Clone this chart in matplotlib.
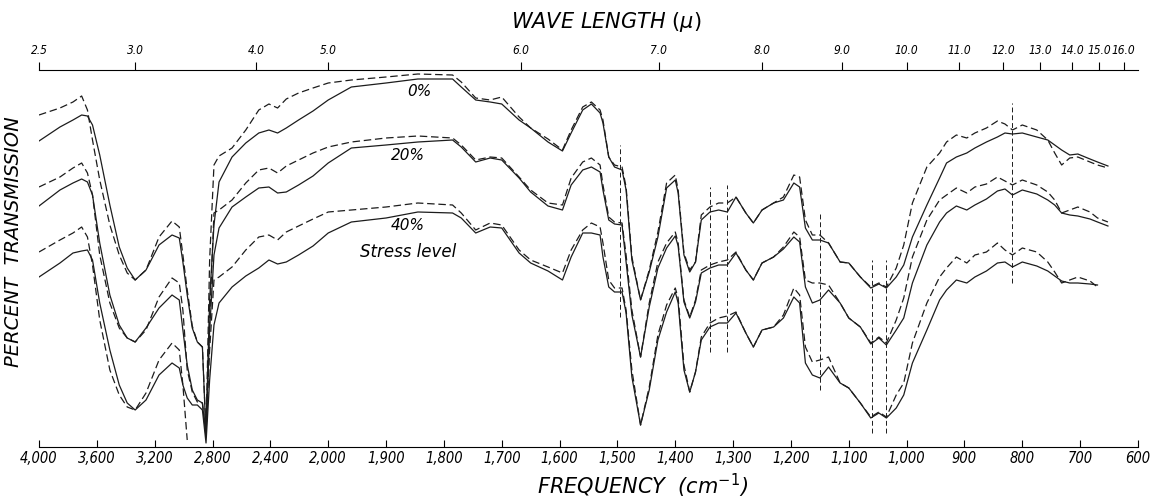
import matplotlib.pyplot as plt
import numpy as np

freq = [4000, 3855, 3765, 3705, 3665, 3630, 3580, 3510, 3445, 3390, 3335, 3260, 3170,
        3080, 3030, 3005, 2975, 2940, 2905, 2870, 2845, 2820, 2790, 2755, 2665, 2570,
        2480, 2410, 2350, 2290, 2205, 2105, 2000,
        1960, 1900, 1845, 1785, 1770, 1745, 1720, 1700, 1670, 1650,
        1620, 1595, 1580, 1560, 1545, 1530, 1525, 1515, 1505, 1492,
        1485, 1475, 1460, 1445, 1430, 1415, 1400, 1395, 1385, 1375,
        1365, 1355, 1340, 1325, 1310, 1295, 1278, 1265, 1250, 1230,
        1213, 1195, 1185, 1175, 1163, 1150, 1135, 1115, 1100, 1080,
        1062, 1048, 1035, 1018, 1005, 990, 965, 943, 931, 914,
        896, 882, 862, 843, 830, 817, 800, 775, 756, 744,
        732, 718, 704, 683, 670, 652]

nan = np.nan
# relative transmission (curves are offset vertically, no y scale on the chart)
t0_dashed = [332, 339, 345, 351, 337, 307, 267, 222, 192, 174, 167, 177, 210, 226, 220, 192, 157,
             121, 105, 100, 14, 187, 282, 291, 299, 317, 337, 343, 339, 348, 354, 359, 364,
             367, 370, 373, 372, 365, 349, 347, 350, 330, 319,
             308, 297, 317, 340, 345, 337, 327, 290, 282, 280,
             260, 190, 147, 177, 215, 264, 272, 257, 194, 177,
             185, 232, 240, 244, 244, 250, 234, 224, 237, 244,
             250, 272, 270, 227, 212, 212, 204, 185, 184, 170,
             160, 164, 160, 179, 202, 244, 280, 294, 305, 312,
             309, 314, 319, 326, 323, 317, 322, 317, 307, 294,
             282, 289, 290, 285, 282, 279]
t0_solid = [306, 320, 327, 332, 331, 322, 292, 242, 200, 179, 167, 177, 202, 212, 209, 185, 152,
            119, 105, 100, 12, 147, 222, 265, 290, 304, 314, 317, 314, 319, 327, 336, 347,
            360, 364, 368, 368, 360, 347, 345, 343, 327, 319,
            305, 296, 314, 337, 343, 334, 324, 290, 280, 277,
            257, 187, 147, 175, 210, 259, 267, 254, 192, 175,
            185, 227, 235, 237, 235, 250, 234, 224, 237, 244,
            247, 264, 260, 219, 207, 207, 204, 185, 184, 170,
            159, 163, 159, 170, 182, 210, 242, 269, 284, 290,
            294, 299, 305, 310, 314, 313, 314, 310, 307, 302,
            297, 292, 293, 288, 285, 281]
t20_dashed = [260, 270, 279, 284, 274, 252, 192, 144, 119, 109, 105, 117, 150, 169, 164, 137, 77,
              55, 45, 44, 14, 127, 234, 237, 247, 264, 277, 279, 274, 281, 287, 294, 300,
              305, 309, 311, 309, 302, 287, 290, 289, 270, 257,
              244, 242, 269, 285, 289, 282, 262, 230, 225, 224,
              192, 137, 90, 144, 185, 204, 215, 204, 147, 130,
              147, 177, 182, 185, 187, 195, 177, 167, 184, 190,
              200, 215, 210, 167, 164, 164, 162, 144, 129, 120,
              104, 110, 104, 127, 149, 190, 227, 247, 252, 259,
              254, 260, 263, 270, 266, 262, 267, 262, 255, 247,
              234, 237, 240, 235, 229, 225]
t20_solid = [241, 257, 264, 268, 265, 252, 204, 152, 122, 109, 105, 119, 139, 152, 147, 117, 82,
             57, 47, 44, 10, 117, 192, 219, 240, 250, 259, 260, 254, 255, 262, 271, 284,
             299, 302, 305, 307, 300, 285, 289, 287, 269, 255,
             241, 237, 262, 277, 280, 275, 257, 227, 223, 222,
             185, 132, 90, 140, 179, 199, 211, 201, 145, 129,
             145, 174, 179, 182, 182, 194, 177, 167, 184, 190,
             198, 210, 205, 160, 144, 147, 157, 144, 129, 120,
             103, 109, 102, 117, 129, 164, 202, 225, 234, 241,
             237, 242, 248, 256, 258, 252, 257, 253, 247, 242,
             234, 232, 231, 228, 225, 221]
t40_dashed = [195, 207, 214, 220, 210, 182, 127, 77, 52, 40, 37, 54, 87, 104, 97, 62, 7,
              nan, nan, nan, 14, 97, 167, 170, 180, 197, 210, 212, 207, 215, 221, 228, 235,
              237, 240, 244, 242, 234, 217, 224, 222, 197, 187,
              180, 174, 197, 217, 224, 220, 204, 167, 159, 159,
              137, 77, 22, 60, 112, 142, 159, 149, 82, 55,
              75, 110, 124, 129, 131, 135, 114, 100, 117, 120,
              132, 159, 152, 100, 85, 87, 90, 64, 59, 44,
              30, 35, 30, 52, 64, 104, 144, 170, 179, 190,
              184, 192, 195, 204, 197, 192, 199, 195, 185, 175,
              164, 167, 170, 166, 160, nan]
t40_solid = [170, 184, 194, 196, 197, 187, 144, 97, 62, 44, 37, 47, 72, 84, 79, 62, 49,
             42, 42, 37, 4, 67, 122, 144, 160, 171, 179, 187, 183, 185, 192, 201, 214,
             225, 229, 235, 234, 229, 214, 220, 219, 194, 184,
             176, 167, 190, 214, 214, 212, 190, 160, 155, 155,
             134, 70, 22, 57, 107, 135, 155, 144, 77, 55,
             75, 107, 120, 124, 124, 134, 114, 100, 117, 120,
             129, 150, 144, 84, 72, 69, 80, 64, 59, 44,
             29, 34, 29, 39, 52, 84, 117, 147, 157, 167,
             164, 170, 176, 184, 185, 180, 185, 181, 176, 171,
             166, 164, 164, 163, 162, nan]

# vertical reference marks: position, bottom, top
mark_freq = [1495, 1340, 1310, 1150, 1060, 1035, 817]
mark_lo = [130, 95, 95, 57, 14, 14, 164]
mark_hi = [302, 260, 262, 234, 187, 187, 344]

freq_ticks = [4000, 3600, 3200, 2800, 2400, 2000, 1900, 1800, 1700, 1600, 1500,
              1400, 1300, 1200, 1100, 1000, 900, 800, 700, 600]
freq_labels = ['4,000', '3,600', '3,200', '2,800', '2,400', '2,000', '1,900', '1,800',
               '1,700', '1,600', '1,500', '1,400', '1,300', '1,200', '1,100', '1,000',
               '900', '800', '700', '600']
wave_ticks = [2.5, 3.0, 4.0, 5.0, 6.0, 7.0, 8.0, 9.0, 10.0, 11.0, 12.0, 13.0, 14.0, 15.0, 16.0]
wave_labels = ['2.5', '3.0', '4.0', '5.0', '6.0', '7.0', '8.0', '9.0', '10.0', '11.0',
               '12.0', '13.0', '14.0', '15.0', '16.0']


# chart paper: 600-2000 at 100 per division, 2000-4000 at 400 per division
def to_pos(f):
    f = np.asarray(f, dtype=float)
    return np.where(f >= 2000, 14 + (f - 2000) / 400, (f - 600) / 100)


def from_pos(p):
    p = np.asarray(p, dtype=float)
    return np.where(p >= 14, 2000 + 400 * (p - 14), 600 + 100 * p)


ink = '#1c1c1c'
cond = ['DejaVu Sans Condensed', 'DejaVu Sans']

fig = plt.figure(figsize=(11.55, 5.04), dpi=100)
ax = fig.add_axes([39 / 1155, 1 - 447 / 504, (1138 - 39) / 1155, (447 - 70) / 504])
ax.set_xscale('function', functions=(to_pos, from_pos))

for vals, dashed in [(t0_dashed, True), (t0_solid, False), (t20_dashed, True),
                     (t20_solid, False), (t40_dashed, True), (t40_solid, False)]:
    if dashed:
        ax.plot(freq, vals, color=ink, lw=0.9, dashes=(6, 3))
    else:
        ax.plot(freq, vals, color=ink, lw=0.9)

ax.vlines(mark_freq, mark_lo, mark_hi, colors=ink, lw=0.7, linestyles=(0, (5, 3)))

ax.set_xlim(4000, 600)
ax.set_ylim(0, 377)
ax.set_yticks([])
ax.set_xticks(freq_ticks, labels=freq_labels, fontstyle='italic', family=cond,
              fontstretch='condensed', fontsize=10.5)
ax.xaxis.set_minor_locator(plt.NullLocator())
ax.tick_params(axis='x', direction='in', length=5, width=0.8, pad=3)
for s in ['left', 'right', 'top']:
    ax.spines[s].set_visible(False)
ax.spines['bottom'].set_linewidth(0.8)

ax2 = ax.twiny()
ax2.set_xscale('function', functions=(to_pos, from_pos))
ax2.set_xlim(4000, 600)
ax2.set_xticks([1e4 / w for w in wave_ticks], labels=wave_labels, fontstyle='italic',
               family=cond, fontstretch='condensed', fontsize=8.6)
ax2.xaxis.set_minor_locator(plt.NullLocator())
ax2.tick_params(axis='x', direction='out', length=6, width=0.8, pad=3)
for s in ['left', 'right', 'bottom']:
    ax2.spines[s].set_visible(False)
ax2.spines['top'].set_linewidth(0.8)

ax.text(1842, 355, '0%', ha='center', va='center', fontsize=11, fontstyle='italic')
ax.text(1862, 291, '20%', ha='center', va='center', fontsize=11, fontstyle='italic')
ax.text(1862, 221, '40%', ha='center', va='center', fontsize=11, fontstyle='italic')
ax.text(1862, 195, 'Stress level', ha='center', va='center', fontsize=12, fontstyle='italic')

fig.text(606 / 1155, 1 - 22 / 504, r'WAVE LENGTH $(\mu)$', ha='center', va='center',
         fontsize=15, fontstyle='italic')
fig.text(643 / 1155, 1 - 486 / 504, r'FREQUENCY  (cm$^{-1}$)', ha='center', va='center',
         fontsize=15, fontstyle='italic')
fig.text(14 / 1155, 1 - 242 / 504, 'PERCENT  TRANSMISSION', rotation=90, ha='center',
         va='center', fontsize=14, fontstyle='italic')

fig.savefig('out.png', dpi=100)
